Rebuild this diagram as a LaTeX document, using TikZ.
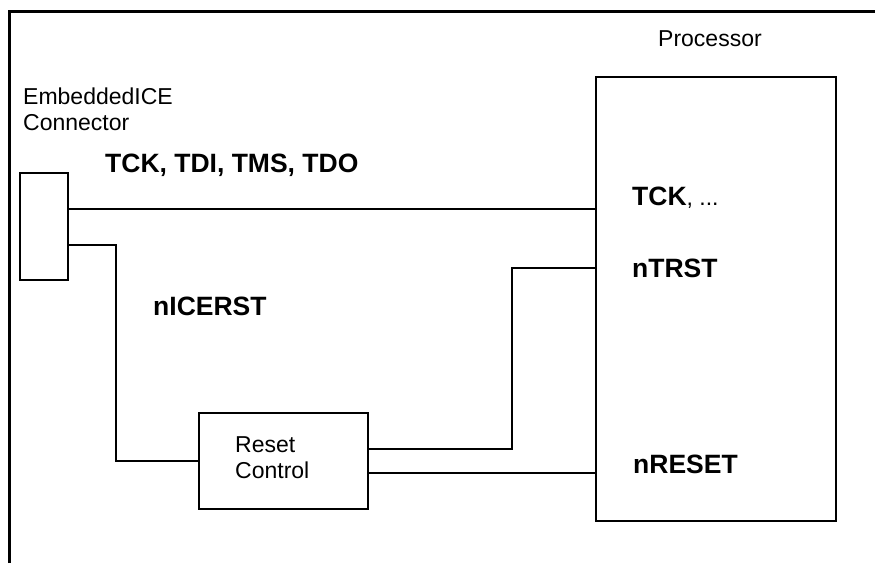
\documentclass[tikz,border=0pt]{standalone}
\usepackage{fontspec}
\setmainfont{Liberation Sans}
\begin{document}
\begin{tikzpicture}[x=1pt,y=-1pt,
  box/.style={draw,line width=2.3pt,rectangle,anchor=north west,inner sep=0pt,outer sep=0pt},
  wire/.style={line width=2.3pt},
  frameline/.style={line width=3pt},
  lbl/.style={inner sep=0pt,anchor=base west,align=left,font=\fontsize{23}{26}\selectfont},
  blbl/.style={inner sep=0pt,anchor=base west,font=\fontsize{26.5}{30}\selectfont\bfseries}]
\useasboundingbox (0,0) rectangle (875,563);
% frame
\coordinate (fbl) at (9,563);
\coordinate (ftl) at (9,11);
\coordinate (ftr) at (875,11);
\draw[frameline] (fbl) -- (ftl) -- (ftr);
% boxes
\node[box,minimum width=48pt,minimum height=107pt] (conn) at (20,173) {};
\node[box,minimum width=240pt,minimum height=444pt] (proc) at (596,77) {};
\node[box,minimum width=169pt,minimum height=96pt] (reset) at (199,413) {};
% labels (base anchor = baseline of the last line)
\node[lbl] (embl) at (23,130) {EmbeddedICE\\Connector};
\node[lbl] (procl) at (658,46) {Processor};
\node[lbl] (resetl) at (235,478) {Reset\\Control};
\node[blbl] (tdil) at (105,172) {TCK, TDI, TMS, TDO};
\node[blbl] (icel) at (153,315) {nICERST};
\node[blbl] (tckl) at (632,205) {TCK{\mdseries\fontsize{23}{26}\selectfont, ...}};
\node[blbl] (trstl) at (632,277) {nTRST};
\node[blbl] (rstl) at (633,473) {nRESET};
% wire rows
\coordinate (r1) at (0,209);
\coordinate (r2) at (0,245);
\coordinate (r3) at (0,461);
\coordinate (r4) at (0,449);
\coordinate (r5) at (0,268);
\coordinate (r6) at (0,473);
\coordinate (c1) at (116,0);
\coordinate (c2) at (512,0);
% wires
\draw[wire] (conn.east |- r1) -- (proc.west |- r1);
\draw[wire] (conn.east |- r2) -- (c1 |- r2) -- (c1 |- r3) -- (reset.west |- r3);
\draw[wire] (reset.east |- r4) -- (c2 |- r4) -- (c2 |- r5) -- (proc.west |- r5);
\draw[wire] (reset.east |- r6) -- (proc.west |- r6);
\end{tikzpicture}
\end{document}
